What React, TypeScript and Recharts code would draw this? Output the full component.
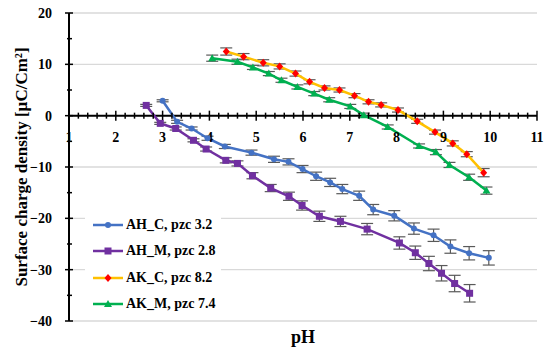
import {
    CartesianGrid,
    ErrorBar,
    Line,
    LineChart,
    ReferenceDot,
    ReferenceLine,
    XAxis,
    YAxis,
} from "recharts";

// AH_C, pzc 3.2
const ahCpH = [3.0, 3.31, 3.62, 3.96, 4.33, 4.9, 5.38, 5.69, 5.99, 6.28, 6.58, 6.84, 7.2, 7.5, 7.95, 8.37, 8.79, 9.15, 9.55, 9.97];
const ahCVal = [2.9, -1.2, -2.5, -4.4, -6.0, -7.2, -8.5, -9.0, -10.4, -11.8, -13.0, -14.3, -15.6, -18.3, -19.5, -22.0, -23.3, -25.5, -26.8, -27.7];
const ahCErr = [0.2, 0.3, 0.3, 0.4, 0.4, 0.5, 0.6, 0.6, 0.7, 0.8, 0.8, 0.9, 0.9, 1.0, 1.0, 1.1, 1.2, 1.3, 1.3, 1.4];

// AH_M, pzc 2.8
const ahMpH = [2.65, 2.95, 3.28, 3.66, 3.93, 4.35, 4.6, 4.92, 5.31, 5.7, 5.98, 6.35, 6.8, 7.37, 8.06, 8.4, 8.69, 8.96, 9.24, 9.56];
const ahMVal = [2.0, -1.5, -2.5, -4.8, -6.5, -8.7, -9.3, -11.7, -14.1, -15.7, -17.5, -19.6, -20.6, -22.1, -24.8, -26.7, -28.8, -30.7, -32.7, -34.6];
const ahMErr = [0.2, 0.2, 0.3, 0.3, 0.4, 0.5, 0.5, 0.6, 0.7, 0.8, 0.9, 1.0, 1.0, 1.1, 1.2, 1.3, 1.4, 1.5, 1.6, 1.7];

// AK_C, pzc 8.2
const akCpH = [4.36, 4.73, 5.15, 5.5, 5.84, 6.14, 6.46, 6.78, 7.1, 7.4, 7.67, 8.03, 8.44, 8.82, 9.2, 9.5, 9.86];
const akCVal = [12.5, 11.5, 10.3, 9.6, 8.2, 6.6, 5.4, 5.0, 3.9, 2.7, 2.1, 1.1, -1.1, -3.2, -5.4, -7.5, -11.1];
const akCErr = [0.7, 0.6, 0.6, 0.5, 0.5, 0.4, 0.4, 0.4, 0.4, 0.4, 0.4, 0.4, 0.4, 0.4, 0.5, 0.5, 0.8];

// AK_M, pzc 7.4
const akMpH = [4.06, 4.6, 4.93, 5.27, 5.54, 5.88, 6.24, 6.56, 7.01, 7.3, 7.81, 8.48, 8.84, 9.13, 9.55, 9.92];
const akMVal = [11.2, 10.5, 9.4, 8.2, 6.9, 5.6, 4.3, 3.1, 1.8, 0.1, -2.2, -5.9, -7.1, -9.6, -12.0, -14.6];
const akMErr = [0.6, 0.5, 0.4, 0.4, 0.4, 0.4, 0.4, 0.4, 0.4, 0.4, 0.4, 0.4, 0.5, 0.5, 0.6, 0.7];

const xMajor = [1, 2, 3, 4, 5, 6, 7, 8, 9, 10, 11];
const xMinor = Array.from({ length: 51 }, (_, i) => Math.round((1 + i * 0.2) * 10) / 10).filter(
    (v) => !Number.isInteger(v)
);
const yTicks = [-40, -35, -30, -25, -20, -15, -10, -5, 0, 5, 10, 15, 20];
const yGrid = [-40, -30, -20, -10, 0, 10, 20];

const FONT = "'Liberation Serif', 'DejaVu Serif', serif";

const build = (xs: number[], ys: number[], es: number[]) =>
    xs.map((x, i) => ({ x, y: ys[i], err: es[i] }));

type Marker = "circle" | "square" | "diamond" | "triangle";

const drawMarker = (kind: Marker, cx: number, cy: number, fill: string, key?: any) => {
    if (kind === "circle") return <circle key={key} cx={cx} cy={cy} r={3} fill={fill} />;
    if (kind === "square") return <rect key={key} x={cx - 3.5} y={cy - 3.5} width={7} height={7} fill={fill} />;
    if (kind === "diamond")
        return (
            <polygon
                key={key}
                points={`${cx},${cy - 4} ${cx + 3.5},${cy} ${cx},${cy + 4} ${cx - 3.5},${cy}`}
                fill={fill}
            />
        );
    return (
        <polygon
            key={key}
            points={`${cx},${cy - 4} ${cx + 4},${cy + 3} ${cx - 4},${cy + 3}`}
            fill={fill}
        />
    );
};

const series = [
    { name: "AH_C, pzc 3.2", data: build(ahCpH, ahCVal, ahCErr), color: "#4472C4", marker: "circle" as Marker, markerColor: "#4472C4" },
    { name: "AH_M, pzc 2.8", data: build(ahMpH, ahMVal, ahMErr), color: "#7030A0", marker: "square" as Marker, markerColor: "#7030A0" },
    { name: "AK_C, pzc 8.2", data: build(akCpH, akCVal, akCErr), color: "#FFC000", marker: "diamond" as Marker, markerColor: "#FF0000" },
    { name: "AK_M, pzc 7.4", data: build(akMpH, akMVal, akMErr), color: "#00B050", marker: "triangle" as Marker, markerColor: "#00B050" },
];

const YTick = (props: any) => {
    const { x, y, payload } = props;
    const v = payload.value;
    const major = v % 10 === 0;
    return (
        <g>
            <line
                x1={major ? x - 4 : x - 2}
                x2={major ? x + 4 : x + 3}
                y1={y}
                y2={y}
                stroke="#000"
                strokeWidth={1.5}
            />
            {major && (
                <text
                    x={x - 17}
                    y={y}
                    dy="0.35em"
                    textAnchor="end"
                    fontFamily={FONT}
                    fontWeight="bold"
                    fontSize={14}
                    fill="#000"
                >
                    {String(v).replace("-", "\u2212")}
                </text>
            )}
        </g>
    );
};

const YLabel = (props: any) => {
    const vb = props.viewBox || { x: 0, y: 13, width: 69, height: 308 };
    const cx = vb.x + 21;
    const cy = vb.y + vb.height / 2;
    return (
        <text
            x={cx}
            y={cy}
            transform={`rotate(-90, ${cx}, ${cy})`}
            textAnchor="middle"
            dominantBaseline="central"
            fontFamily={FONT}
            fontWeight="bold"
            fontSize={17}
            fill="#000"
        >
            Surface charge density [µC/Cm²]
        </text>
    );
};

const XLabel = (props: any) => {
    const vb = props.viewBox || { x: 69, y: 321, width: 468, height: 30 };
    return (
        <text
            x={vb.x + vb.width / 2}
            y={vb.y + 22}
            textAnchor="middle"
            fontFamily={FONT}
            fontWeight="bold"
            fontSize={18}
            fill="#000"
        >
            pH
        </text>
    );
};

const LegendBox = () => (
    <div
        style={{
            position: "absolute",
            left: 85,
            top: 211,
            width: 128,
            background: "#fff",
            padding: "1px 0 1px 8px",
            fontFamily: FONT,
        }}
    >
        {series.map((s) => (
            <div key={s.name} style={{ display: "flex", alignItems: "center", height: 26.3 }}>
                <svg width={30} height={10} style={{ marginRight: 3 }}>
                    <line x1={0} x2={30} y1={5} y2={5} stroke={s.color} strokeWidth={2.5} />
                    {drawMarker(s.marker, 15, 5, s.markerColor)}
                </svg>
                <span style={{ fontSize: 14, fontWeight: "bold", color: "#000", whiteSpace: "nowrap" }}>
                    {s.name}
                </span>
            </div>
        ))}
    </div>
);

export default function App() {
    return (
        <div style={{ position: "absolute", left: 0, top: 0, width: 550, height: 351, background: "#fff" }}>
            <LineChart
                width={550}
                height={351}
                margin={{ top: 13, right: 13, left: 0, bottom: 0 }}
                style={{ fontFamily: FONT }}
            >
                <CartesianGrid
                    stroke="#d9d9d9"
                    strokeWidth={1.3}
                    horizontalValues={yGrid}
                    verticalValues={xMajor}
                />
                <XAxis
                    dataKey="x"
                    type="number"
                    domain={[1, 11]}
                    ticks={xMajor}
                    allowDataOverflow
                    tick={false}
                    tickLine={false}
                    axisLine={false}
                    height={30}
                    label={<XLabel />}
                />
                <YAxis
                    type="number"
                    domain={[-40, 20]}
                    ticks={yTicks}
                    interval={0}
                    allowDataOverflow
                    width={69}
                    tickSize={0}
                    tickMargin={0}
                    tickLine={false}
                    axisLine={{ stroke: "#000", strokeWidth: 2 }}
                    tick={<YTick />}
                    label={<YLabel />}
                />
                <ReferenceLine y={0} stroke="#000" strokeWidth={2} />
                {xMinor.map((v) => (
                    <ReferenceDot
                        key={`m${v}`}
                        x={v}
                        y={0}
                        r={0}
                        shape={(p: any) => (
                            <line x1={p.cx} x2={p.cx} y1={p.cy - 3} y2={p.cy + 3} stroke="#000" strokeWidth={1.5} />
                        )}
                    />
                ))}
                {xMajor.map((v) => (
                    <ReferenceDot
                        key={`M${v}`}
                        x={v}
                        y={0}
                        r={0}
                        shape={(p: any) => (
                            <g>
                                <line x1={p.cx} x2={p.cx} y1={p.cy - 5} y2={p.cy + 5} stroke="#000" strokeWidth={1.5} />
                                <text
                                    x={p.cx}
                                    y={p.cy + 26}
                                    textAnchor="middle"
                                    fontFamily={FONT}
                                    fontWeight="bold"
                                    fontSize={14}
                                    fill="#000"
                                >
                                    {v}
                                </text>
                            </g>
                        )}
                    />
                ))}
                {series.map((s) => (
                    <Line
                        key={s.name}
                        name={s.name}
                        data={s.data}
                        dataKey="y"
                        type="linear"
                        stroke={s.color}
                        strokeWidth={2.5}
                        activeDot={false}
                        isAnimationActive={false}
                        dot={(p: any) => drawMarker(s.marker, p.cx, p.cy, s.markerColor, p.index)}
                    >
                        <ErrorBar dataKey="err" direction="y" width={6} stroke="#595959" strokeWidth={1.2} />
                    </Line>
                ))}
            </LineChart>
            <LegendBox />
        </div>
    );
}
